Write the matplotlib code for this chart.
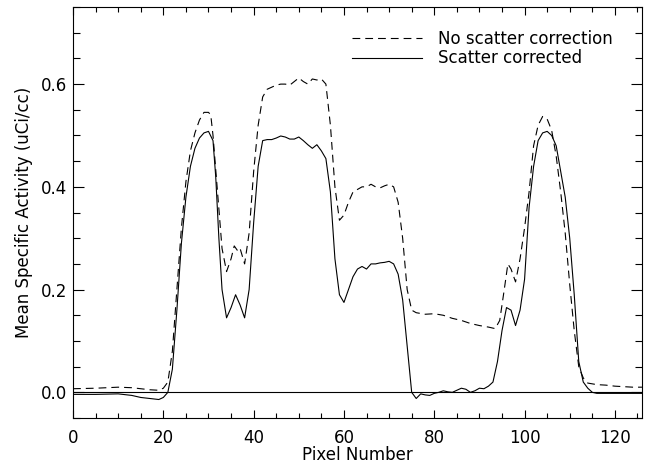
import matplotlib
matplotlib.use("Agg")
import matplotlib.pyplot as plt
from matplotlib.ticker import MultipleLocator

plt.rcParams['font.family'] = ['DejaVu Sans']

### DATA
x_raw = [0, 5, 10, 13, 15, 17, 19, 20, 21, 22, 23, 24, 25, 26, 27, 28, 29, 30, 30.5,
         31, 32, 33, 34, 35, 35.7, 36.5, 37, 38, 39, 40, 41, 42, 43, 44, 45, 46, 47,
         48, 49, 50, 51, 52, 53, 54, 55, 56, 57, 58, 59, 60, 61, 62, 63, 64, 65, 66,
         67, 68, 69, 70, 71, 72, 73, 74, 75, 76, 78, 80, 82, 84, 86, 88, 90, 92, 93.5,
         94.5, 95.5, 96.3, 97, 98, 99, 100, 101, 102, 103, 104, 105, 106, 107, 108,
         109, 110, 111, 112, 113, 114, 116, 118, 120, 122, 124, 126]
y_raw = [0.007, 0.008, 0.010, 0.009, 0.007, 0.005, 0.004, 0.008, 0.020, 0.080, 0.200,
         0.320, 0.410, 0.470, 0.505, 0.530, 0.545, 0.545, 0.540, 0.500, 0.390, 0.280,
         0.235, 0.260, 0.285, 0.275, 0.280, 0.250, 0.310, 0.430, 0.520, 0.575, 0.590,
         0.594, 0.598, 0.600, 0.600, 0.598, 0.605, 0.612, 0.605, 0.600, 0.610, 0.608,
         0.610, 0.600, 0.520, 0.400, 0.335, 0.345, 0.370, 0.390, 0.395, 0.400, 0.400,
         0.405, 0.400, 0.398, 0.402, 0.405, 0.400, 0.370, 0.300, 0.200, 0.160, 0.155,
         0.152, 0.153, 0.150, 0.144, 0.140, 0.134, 0.130, 0.127, 0.124, 0.140, 0.200,
         0.250, 0.240, 0.215, 0.260, 0.320, 0.390, 0.480, 0.520, 0.537, 0.532, 0.510,
         0.460, 0.390, 0.310, 0.210, 0.120, 0.050, 0.028, 0.018, 0.015, 0.014, 0.012,
         0.011, 0.010, 0.010]

x_corr = [0, 5, 10, 13, 15, 17, 19, 20, 21, 22, 23, 24, 25, 26, 27, 28, 29, 30, 31,
          31.6, 32.3, 33, 34, 35, 36, 37, 38, 39, 40, 41, 42, 43, 44, 45, 46, 47, 48,
          49, 50, 51, 52, 53, 54, 55, 56, 57, 58, 59, 60, 61, 62, 63, 64, 65, 66, 67,
          68, 69, 70, 71, 72, 73, 74, 75, 76, 77, 78, 79, 80, 81, 82, 83, 84, 85, 86,
          87, 88, 89, 90, 91, 92, 93, 94, 95, 96, 97, 98, 99, 100, 101, 102, 103, 104,
          105, 106, 107, 108, 109, 110, 111, 112, 113, 114, 115, 116, 120, 126]
y_corr = [-0.004, -0.004, -0.003, -0.006, -0.010, -0.012, -0.014, -0.010, 0.000, 0.045,
          0.160, 0.290, 0.380, 0.440, 0.475, 0.495, 0.505, 0.508, 0.490, 0.420, 0.300,
          0.200, 0.145, 0.165, 0.190, 0.170, 0.145, 0.200, 0.330, 0.440, 0.490, 0.492,
          0.492, 0.495, 0.499, 0.497, 0.493, 0.493, 0.497, 0.490, 0.482, 0.475, 0.482,
          0.470, 0.455, 0.390, 0.260, 0.190, 0.175, 0.200, 0.225, 0.240, 0.245, 0.240,
          0.250, 0.250, 0.252, 0.253, 0.255, 0.250, 0.230, 0.180, 0.090, 0.000, -0.012,
          -0.003, -0.005, -0.006, -0.002, 0.000, 0.003, 0.001, 0.000, 0.004, 0.008,
          0.006, 0.000, 0.003, 0.008, 0.007, 0.012, 0.020, 0.060, 0.120, 0.165, 0.160,
          0.130, 0.160, 0.220, 0.360, 0.440, 0.490, 0.505, 0.508, 0.500, 0.480, 0.430,
          0.380, 0.300, 0.190, 0.060, 0.020, 0.008, 0.000, -0.002, -0.002, -0.002]

fig = plt.figure(figsize=(6.48, 4.67), dpi=100)
ax = fig.add_axes([0.1127, 0.1049, 0.878, 0.880])

ax.plot(x_raw, y_raw, color='black', lw=0.8, linestyle=(0, (7, 4.5)),
        label='No scatter correction')
ax.plot(x_corr, y_corr, color='black', lw=0.8, label='Scatter corrected')
ax.axhline(0, color='black', lw=0.8)

ax.set_xlim(0, 126)
ax.set_ylim(-0.05, 0.75)
ax.xaxis.set_major_locator(MultipleLocator(20))
ax.xaxis.set_minor_locator(MultipleLocator(5))
ax.yaxis.set_major_locator(MultipleLocator(0.2))
ax.yaxis.set_minor_locator(MultipleLocator(0.05))
ax.yaxis.set_major_formatter(plt.FuncFormatter(lambda v, p: '%.1f' % v))

ax.tick_params(axis='both', which='both', direction='in', top=True, right=True,
               labelsize=12, width=0.8)
ax.tick_params(axis='x', which='major', length=6, pad=8)
ax.tick_params(axis='x', which='minor', length=3.5)
ax.tick_params(axis='y', which='major', length=8, pad=4)
ax.tick_params(axis='y', which='minor', length=5)
for s in ax.spines.values():
    s.set_linewidth(0.8)

ax.set_xlabel('Pixel Number', fontsize=12, labelpad=-1)
ax.set_ylabel('Mean Specific Activity (uCi/cc)', fontsize=12, labelpad=6)

ax.legend(loc='upper right', bbox_to_anchor=(0.961, 0.961), frameon=False,
          fontsize=12, handlelength=4.2, handletextpad=1.0, labelspacing=0.1,
          borderaxespad=0)

fig.savefig('out.png', dpi=100)
